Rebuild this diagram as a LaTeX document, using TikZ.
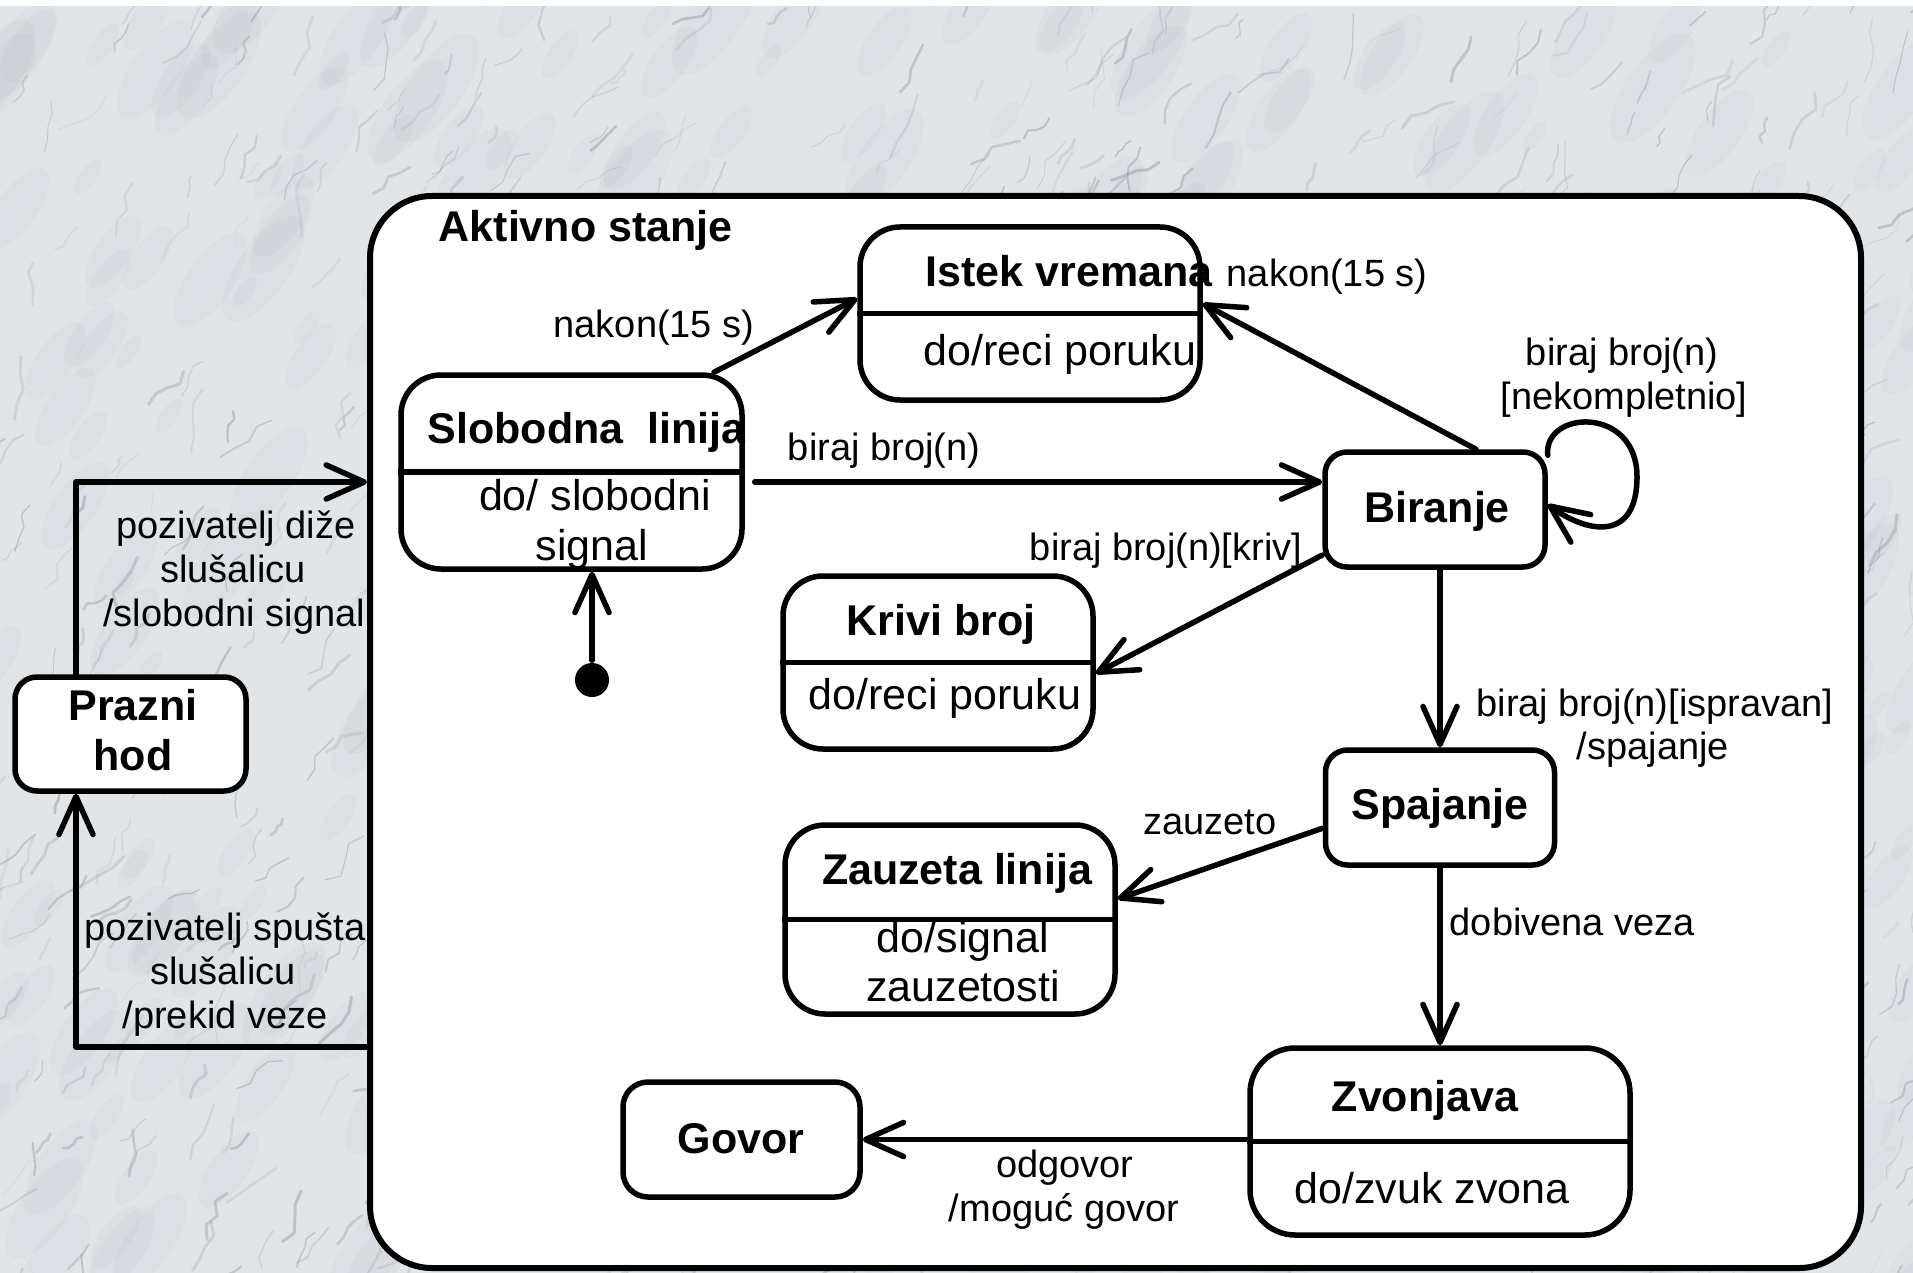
\documentclass[tikz,border=0pt]{standalone}
\usepackage{fontspec}
\setmainfont{Liberation Sans}
\usetikzlibrary{arrows.meta,calc}
\definecolor{marble}{RGB}{226,229,232}
\definecolor{veingrey}{RGB}{135,141,150}

\begin{document}
\begin{tikzpicture}[x=1pt, y=-1pt, line width=5.5pt, line cap=round, line join=round,
  state/.style={draw, fill=white, rounded corners=#1, inner sep=0pt},
  state/.default=40pt,
  ttl/.style={font=\fontsize{43}{50}\selectfont\bfseries, inner sep=0pt},
  actv/.style={font=\fontsize{43}{50}\selectfont, inner sep=0pt},
  lbl/.style={font=\fontsize{38}{44}\selectfont, inner sep=0pt},
  arr/.style={-{Straight Barb[length=38pt, width=34pt, round]}},
  vein/.style={draw=veingrey, line cap=round, line join=round}
]
\useasboundingbox (0,0) rectangle (1913,1273);

% marble backdrop: soft grey clouds and wandering veins
\fill[marble] (0,0) rectangle (1913,1273);
\begin{scope}
  \clip (0,6) rectangle (1913,1273);
  \pgfmathsetseed{42}
  \foreach \k in {1,...,420}{
    \pgfmathsetmacro{\bx}{rnd*1960-20}
    \pgfmathsetmacro{\by}{rnd*1300}
    \pgfmathsetmacro{\br}{8+rnd*30}
    \fill[veingrey, opacity=0.06, rotate around={55:(\bx,\by)}]
      (\bx,\by) ellipse ({\br*1.7} and {\br*0.7});
  }
  \foreach \k in {1,...,900}{
    \pgfmathsetmacro{\vx}{rnd*1980-40}
    \pgfmathsetmacro{\vy}{rnd*1320}
    \pgfmathsetmacro{\va}{-35-rnd*45}
    \pgfmathsetmacro{\vl}{5+rnd*12}
    \pgfmathsetmacro{\vw}{0.7+rnd*2.4}
    \pgfmathsetmacro{\vo}{0.10+rnd*0.30}
    \pgfmathsetmacro{\aa}{\va+35*rand}
    \pgfmathsetmacro{\ab}{\va+35*rand}
    \pgfmathsetmacro{\ac}{\va+35*rand}
    \pgfmathsetmacro{\ad}{\va+35*rand}
    \draw[vein, line width=\vw pt, opacity=\vo]
      (\vx,\vy) -- ++(\aa:\vl) -- ++(\ab:\vl) -- ++(\ac:\vl) -- ++(\ad:\vl);
  }
\end{scope}
\fill[white] (0,0) rectangle (1913,6);

% composite state
\node[draw, fill=white, rounded corners=62pt, inner sep=0pt, line width=6pt,
      minimum width=1491pt, minimum height=1072pt] (act) at (1115.5,732) {};
\node[ttl, anchor=base west] (actT) at (436,242) {Aktivno stanje};

% states
\node[state, minimum width=341pt, minimum height=194pt] (sl) at (571.5,472) {};
\node[state, minimum width=340pt, minimum height=173pt] (ist) at (1030,313.5) {};
\node[state=22pt, minimum width=220pt, minimum height=115pt] (bir) at (1435,509.5) {};
\node[state, minimum width=310pt, minimum height=173pt] (kri) at (938,662.5) {};
\node[state=22pt, minimum width=229pt, minimum height=115pt] (spa) at (1440,807.5) {};
\node[state, minimum width=330pt, minimum height=189pt] (zau) at (950,919.5) {};
\node[state=45pt, minimum width=380pt, minimum height=187pt] (zvo) at (1440,1141.5) {};
\node[state=25pt, minimum width=237pt, minimum height=115pt] (gov) at (741.5,1139.5) {};
\node[state=22pt, minimum width=231pt, minimum height=114pt] (pra) at (130.5,734) {};

% compartment dividers
\foreach \s in {sl,ist,kri,zau,zvo} \draw[line cap=butt] (\s.west) -- (\s.east);

% state texts
\node[ttl, anchor=base west] (slT) at (425,443) {Slobodna~~linija};
\node[actv, anchor=base] (slA1) at (595,510) {do/ slobodni};
\node[actv, anchor=base] (slA2) at (592,560) {signal};
\node[ttl, anchor=base west] (istT) at (923,287) {Istek vremana};
\node[actv, anchor=base west] (istA) at (921,365) {do/reci poruku};
\node[ttl, anchor=base] (birT) at (1437,522) {Biranje};
\node[ttl, anchor=base] (kriT) at (941,635) {Krivi broj};
\node[actv, anchor=base] (kriA) at (945,709) {do/reci poruku};
\node[ttl, anchor=base] (spaT) at (1440,819) {Spajanje};
\node[ttl, anchor=base] (zauT) at (957,884) {Zauzeta linija};
\node[actv, anchor=base] (zauA1) at (963,952) {do/signal};
\node[actv, anchor=base] (zauA2) at (963,1001) {zauzetosti};
\node[ttl, anchor=base] (zvoT) at (1425,1111) {Zvonjava};
\node[actv, anchor=base] (zvoA) at (1432,1203) {do/zvuk zvona};
\node[ttl, anchor=base] (govT) at (741,1153) {Govor};
\node[ttl, anchor=base] (praT1) at (133,720) {Prazni};
\node[ttl, anchor=base] (praT2) at (133,770) {hod};

% initial pseudostate
\node[circle, fill, inner sep=0pt, minimum size=34pt] (init) at (592,680) {};
\draw[arr] (init) -- (init |- sl.south);

% transitions
\draw[arr] (sl.35) -- (ist.175);
\node[lbl, anchor=base] (l1) at (654,337) {nakon(15 s)};

\coordinate (slout) at ([yshift=-10pt]sl.east);
\draw[arr] ([xshift=10pt]slout) -- (slout -| bir.west);
\node[lbl, anchor=base] (l2) at (884,460) {biraj broj(n)};

\draw[arr] ([xshift=41pt]bir.north) -- ([yshift=10pt]ist.east);
\node[lbl, anchor=base west] (l3) at (1224,287) {nakon(15 s)};

\coordinate (loopR) at (1637,477);
\draw[arr] ([yshift=-6pt]bir.north east) .. controls (1543,410) and (1637,405) .. (loopR)
  .. controls (1637,540) and (1590,535) .. ([yshift=5pt]bir.east);
\node[lbl, anchor=base] (l4a) at (1622,365) {biraj broj(n)};
\node[lbl, anchor=base] (l4b) at (1624,409) {[nekompletnio]};

\draw[arr] (bir.202) -- (kri.-4);
\node[lbl, anchor=base east] (l5) at (1305,560) {biraj broj(n)[kriv]};

\draw[arr] (bir.south -| spa.north) -- (spa.north);
\node[lbl, anchor=base] (l6a) at (1655,716) {biraj broj(n)[ispravan]};
\node[lbl, anchor=base] (l6b) at (1653,759) {/spajanje};

\draw[arr] (spa.190) -- (zau.7);
\node[lbl, anchor=base] (l7) at (1210,834) {zauzeto};

\draw[arr] (spa.south) -- (zvo.north);
\node[lbl, anchor=base west] (l8) at (1447,935) {dobivena veza};

\draw[arr] (zvo.west |- gov.east) -- (gov.east);
\node[lbl, anchor=base] (l9a) at (1065,1177) {odgovor};
\node[lbl, anchor=base] (l9b) at (1064,1221) {/moguć govor};

% transitions to and from the idle state
\coordinate (ltop) at (76,482);
\coordinate (lbot) at (76,1047);
\draw[arr] (pra.north -| ltop) -- (ltop) -- (ltop -| act.west);
\draw[arr] (lbot -| act.west) -- (lbot) -- (pra.south -| lbot);
\node[lbl, anchor=base] (l10a) at (236,538) {pozivatelj diže};
\node[lbl, anchor=base] (l10b) at (233,582) {slušalicu};
\node[lbl, anchor=base] (l10c) at (234,626) {/slobodni signal};
\node[lbl, anchor=base] (l11a) at (225,940) {pozivatelj spušta};
\node[lbl, anchor=base] (l11b) at (223,984) {slušalicu};
\node[lbl, anchor=base] (l11c) at (225,1028) {/prekid veze};
\end{tikzpicture}
\end{document}
